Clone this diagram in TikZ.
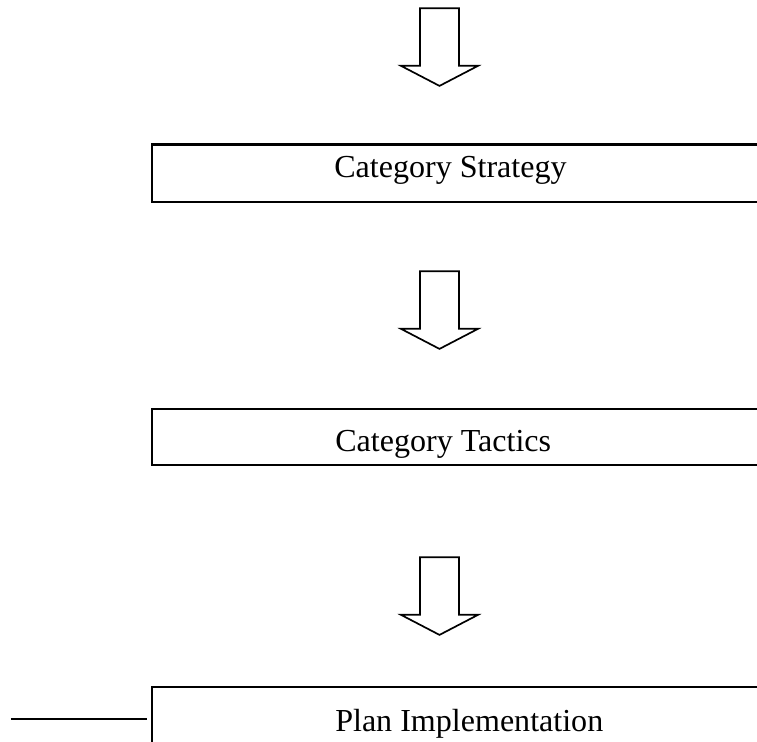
\documentclass[tikz,border=0pt]{standalone}
\usepackage{fontspec}
\setmainfont{Liberation Serif}
\begin{document}
\begin{tikzpicture}[
    box/.style={draw, line width=1.5pt, minimum width=16.225cm, anchor=north west, inner sep=0pt},
    boxtext/.style={anchor=base west, inner sep=0pt, font=\fontsize{22.8}{27}\selectfont},
    arrowline/.style={draw, line width=1.2pt, line join=miter},
    blockarrow/.pic={
        \draw[arrowline] (-0.4875,0) -- (0.4875,0) -- (0.4875,-1.435) -- (0.97,-1.435)
            -- (0,-1.94) -- (-0.97,-1.435) -- (-0.4875,-1.435) -- cycle;
    }
]
    \clip (0,0) rectangle (18.925,18.55);

    \pic at (10.9875,18.3425) {blockarrow};
    \node[box, minimum height=1.4375cm] (strategy) at (3.775,14.9625) {};
    \node[boxtext] (strategytext) at (8.35,14.1) {Category Strategy};

    \pic at (10.9875,11.7675) {blockarrow};
    \node[box, minimum height=1.415cm] (tactics) at (3.775,8.3575) {};
    \node[boxtext] (tacticstext) at (8.375,7.2575) {Category Tactics};

    \pic at (10.9875,4.6175) {blockarrow};
    \node[box, minimum height=1.44cm] (implementation) at (3.775,1.4075) {};
    \node[boxtext] (implementationtext) at (8.375,0.25) {Plan Implementation};

    \coordinate (lead) at (0.275,0.5675);
    \draw[line width=1.3pt, shorten >=0.1cm] (lead) -- (lead -| implementation.west);
\end{tikzpicture}
\end{document}
